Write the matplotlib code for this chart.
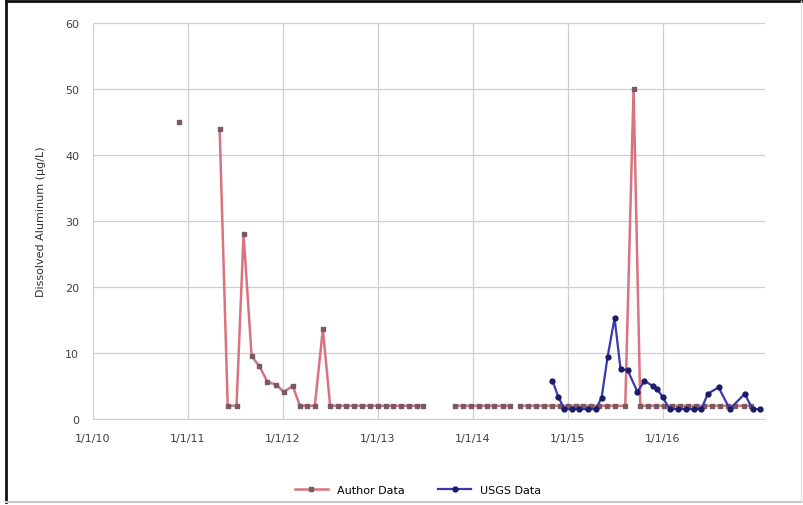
import numpy as np
import pandas as pd
import matplotlib
matplotlib.use('Agg')
import matplotlib.pyplot as plt
from matplotlib.lines import Line2D

# Author data (None = gap in the line)
author_dates = ['2010-11-26', None,
                '2011-05-03', '2011-06-03', '2011-07-07', '2011-08-03', '2011-09-03',
                '2011-10-03', '2011-11-03', '2011-12-07', '2012-01-04', '2012-02-08',
                '2012-03-07', '2012-04-03', '2012-05-03', '2012-06-03', '2012-07-01',
                '2012-08-01', '2012-09-01', '2012-10-01', '2012-11-01', '2012-12-01',
                '2013-01-01', '2013-02-01', '2013-03-01', '2013-04-01', '2013-05-01',
                '2013-06-01', '2013-06-25', None,
                '2013-10-25', '2013-11-25', '2013-12-25', '2014-01-25', '2014-02-25',
                '2014-03-25', '2014-04-25', '2014-05-25', None,
                '2014-07-01', '2014-08-01', '2014-09-01', '2014-10-01', '2014-11-01',
                '2014-12-01', '2015-01-01', '2015-02-01', '2015-03-01', '2015-04-01',
                '2015-05-01', '2015-06-01', '2015-07-01', '2015-08-10', '2015-09-11',
                '2015-10-07', '2015-11-07', '2015-12-07', '2016-01-07', '2016-02-07',
                '2016-03-07', '2016-04-07', '2016-05-07', '2016-06-07', '2016-07-07',
                '2016-08-07', '2016-09-07', '2016-10-07', '2016-11-07', '2016-12-07']
author_vals = [45, None,
               44, 2, 2, 28, 9.5,
               8, 5.6, 5.2, 4.1, 5,
               2, 2, 2, 13.6, 2,
               2, 2, 2, 2, 2,
               2, 2, 2, 2, 2,
               2, 2, None,
               2, 2, 2, 2, 2,
               2, 2, 2, None,
               2, 2, 2, 2, 2,
               2, 2, 2, 2, 2,
               2, 2, 2, 2, 50,
               2, 2, 2, 2, 2,
               2, 2, 2, 2, 2,
               2, 2, 2, 2, 2]

# USGS data
usgs_dates = ['2014-11-03', '2014-11-26', '2014-12-19', '2015-01-16', '2015-02-15',
              '2015-03-18', '2015-04-18', '2015-05-11', '2015-06-03', '2015-06-30',
              '2015-07-23', '2015-08-19', '2015-09-26', '2015-10-23', '2015-11-23',
              '2015-12-12', '2016-01-01', '2016-01-28', '2016-02-27', '2016-03-29',
              '2016-04-29', '2016-05-29', '2016-06-22', '2016-08-03', '2016-09-15',
              '2016-11-11', '2016-12-12', '2017-01-08']
usgs_vals = [5.8, 3.3, 1.5, 1.5, 1.5,
             1.5, 1.5, 3.2, 9.4, 15.3,
             7.5, 7.4, 4.1, 5.8, 5.0,
             4.5, 3.3, 1.5, 1.5, 1.5,
             1.5, 1.5, 3.8, 4.8, 1.5,
             3.8, 1.5, 1.5]

tick_dates = ['2010-01-01', '2011-01-01', '2012-01-01', '2013-01-01',
              '2014-01-01', '2015-01-01', '2016-01-01']
tick_labels = ['1/1/10', '1/1/11', '1/1/12', '1/1/13', '1/1/14', '1/1/15', '1/1/16']

a_x = pd.to_datetime(pd.Series(author_dates))
a_y = np.array([np.nan if v is None else v for v in author_vals], dtype=float)
u_x = pd.to_datetime(pd.Series(usgs_dates))

fig = plt.figure(figsize=(8.04, 5.06), dpi=100)
ax = fig.add_axes([0.1157, 0.17, 0.951 - 0.1157, 0.9526 - 0.17])

ax.plot(a_x, a_y, color='#d9737f', lw=1.8, marker='s', ms=3,
        mfc='#7a5a62', mec='#7a5a62', label='Author Data', zorder=3)
ax.plot(u_x, usgs_vals, color='#3838b0', lw=1.6, marker='o', ms=3.5,
        mfc='#1c1c66', mec='#1c1c66', label='USGS Data', zorder=4)

ax.set_ylim(0, 60)
ax.set_yticks(range(0, 61, 10))
ax.set_xlim(pd.Timestamp('2010-01-01'), pd.Timestamp('2017-01-27'))
ax.set_xticks(pd.to_datetime(tick_dates))
ax.set_xticklabels(tick_labels)
ax.grid(True, color='#cfcfcf', lw=0.9)
ax.set_axisbelow(True)
for s in ['top', 'right', 'left']:
    ax.spines[s].set_visible(False)
ax.spines['bottom'].set_color('#cfcfcf')
ax.tick_params(length=0, labelsize=8, colors='#404040', pad=10)
ax.set_ylabel('Dissolved Aluminum (µg/L)', fontsize=8, color='#303030', labelpad=14)

fig.legend(loc='center', bbox_to_anchor=(0.52, 0.03), ncol=2, frameon=False,
           fontsize=8, handlelength=3, columnspacing=3)

# picture frame: dark on top/left, light on bottom/right
fig.add_artist(Line2D([0.0075, 0.0075], [0.006, 0.996], color='#111111', lw=2))
fig.add_artist(Line2D([0.0075, 1.0], [0.996, 0.996], color='#111111', lw=2))
fig.add_artist(Line2D([0.0075, 1.0], [0.006, 0.006], color='#c8c8c8', lw=1.5))
fig.add_artist(Line2D([0.996, 0.996], [0.006, 0.996], color='#e0e0e0', lw=1))

fig.savefig('out.png', dpi=100)
